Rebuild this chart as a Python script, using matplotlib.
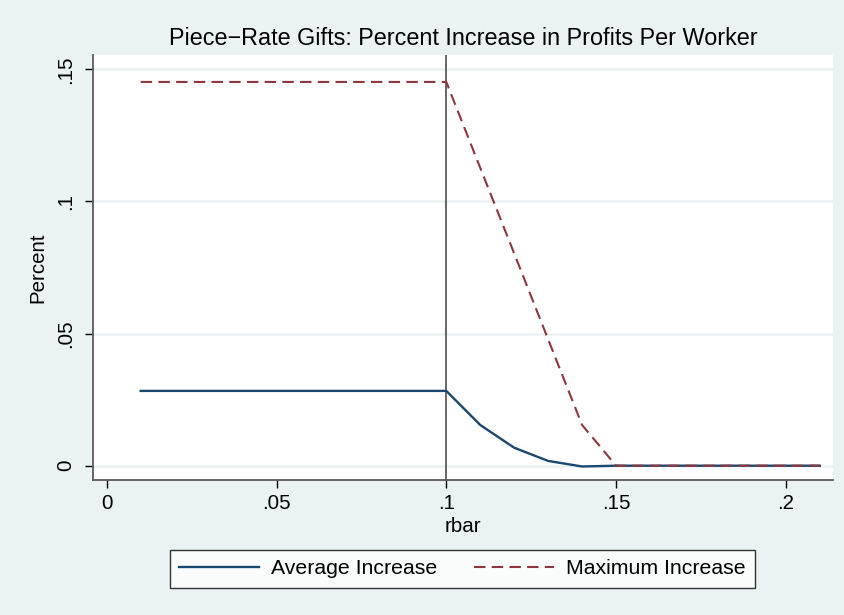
import numpy as np
import matplotlib
matplotlib.use("Agg")
import matplotlib.pyplot as plt

plt.rcParams['font.family'] = ['Liberation Sans', 'DejaVu Sans']

# datos
rbar = [0.01, 0.02, 0.03, 0.04, 0.05, 0.06, 0.07, 0.08, 0.09, 0.10, 0.11,
        0.12, 0.13, 0.14, 0.15, 0.16, 0.17, 0.18, 0.19, 0.20, 0.21]
avg_inc = [0.0283, 0.0283, 0.0283, 0.0283, 0.0283, 0.0283, 0.0283, 0.0283, 0.0283, 0.0283,
           0.0154, 0.0068, 0.0018, -0.0003, 0.0, 0.0, 0.0, 0.0, 0.0, 0.0, 0.0]
max_inc = [0.1452, 0.1452, 0.1452, 0.1452, 0.1452, 0.1452, 0.1452, 0.1452, 0.1452, 0.1452,
           0.1127, 0.0803, 0.0478, 0.0154, 0.0, 0.0, 0.0, 0.0, 0.0, 0.0, 0.0]
xticks = [0, 0.05, 0.1, 0.15, 0.2]
xlabels = ["0", ".05", ".1", ".15", ".2"]
yticks = [0, 0.05, 0.1, 0.15]
ylabels = ["0", ".05", ".1", ".15"]

bg = "#eaf2f3"
axc = "#5a5a5a"

fig = plt.figure(figsize=(8.44, 6.15), dpi=100, facecolor=bg)
ax = fig.add_axes([0.1102, 0.22, 0.8764, 0.6906])
ax.set_facecolor("white")

# lineas de cuadricula horizontales
for yt in yticks:
    ax.axhline(yt, color=bg, lw=1.8, zorder=1)

ax.axvline(0.1, color=axc, lw=1.3, zorder=2)

ax.plot(rbar, avg_inc, color="#1a476f", lw=1.7, zorder=3, label="Average Increase")
ax.plot(rbar, max_inc, color="#90353b", lw=1.5, zorder=3, dashes=(5.5, 3),
        label="Maximum Increase")

ax.set_xlim(-0.00404, 0.2138)
ax.set_ylim(-0.0053, 0.1554)

ax.set_xticks(xticks)
ax.set_xticklabels(xlabels)
ax.set_yticks(yticks)
ax.set_yticklabels(ylabels, rotation=90, va="center")

for s in ["top", "right"]:
    ax.spines[s].set_visible(False)
for s in ["left", "bottom"]:
    ax.spines[s].set_color(axc)
    ax.spines[s].set_linewidth(1.3)

ax.tick_params(axis="both", length=6, width=1, color="black", labelsize=14.8)
ax.tick_params(axis="x", pad=4)
ax.tick_params(axis="y", pad=7)

ax.set_xlabel("rbar", fontsize=14.8, labelpad=3)
ax.set_ylabel("Percent", fontsize=14.8, labelpad=6)
ax.set_title("Piece\u2212Rate Gifts: Percent Increase in Profits Per Worker",
             fontsize=16.8, pad=7)

leg = fig.legend(loc="center", bbox_to_anchor=(0.548, 0.0748), ncol=2,
                 fontsize=15.3, frameon=True, fancybox=False, handlelength=3.76,
                 handletextpad=0.55, columnspacing=1.75, borderpad=0.45)
leg.get_frame().set_edgecolor("black")
leg.get_frame().set_linewidth(1.0)
leg.get_frame().set_facecolor("white")

fig.savefig("out.png", dpi=100, facecolor=bg)
